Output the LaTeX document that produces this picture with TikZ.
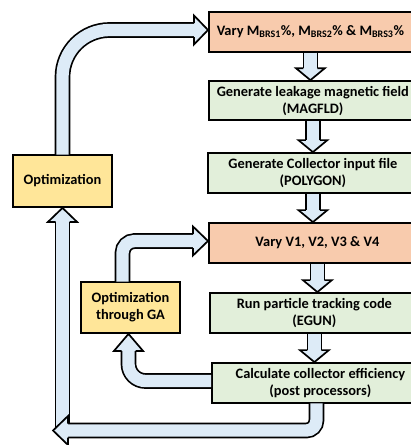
\documentclass[tikz,border=0pt]{standalone}
\usepackage{fontspec}
\setmainfont{Carlito}
\definecolor{orangefill}{HTML}{F8CBAD}
\definecolor{greenfill}{HTML}{E2EFDA}
\definecolor{yellowfill}{HTML}{FFE699}
\definecolor{arrowblue}{HTML}{DDEBF7}
\newcommand{\bhead}[3]{%
  \begin{scope}[shift={(#1)}, rotate=#2]
    \filldraw[headstyle] (-#3,-7) -- (-#3,-14.5) -- (0,0) -- (-#3,14.5) -- (-#3,7);
  \end{scope}}
\begin{document}
\begin{tikzpicture}[x=1pt,y=-1pt,
  box/.style={draw=black, line width=1.8pt, font=\fontsize{14.4}{17.3}\selectfont\bfseries, align=center, inner sep=0pt, anchor=west},
  obox/.style={box, fill=orangefill},
  gbox/.style={box, fill=greenfill},
  ybox/.style={box, fill=yellowfill, anchor=center},
  shaft/.style={draw=black, line width=1.7pt, double=arrowblue, double distance=12.3pt, line cap=butt},
  headstyle/.style={fill=arrowblue, draw=black, line width=1.7pt, line join=miter}]
\useasboundingbox (0,0) rectangle (411,445);
% boxes
\node[obox, minimum width=203pt, minimum height=40pt] (b1) at (208,31.7) {Vary M\textsubscript{BRS1}\%, M\textsubscript{BRS2}\% \& M\textsubscript{BRS3}\%};
\node[gbox, minimum width=208pt, minimum height=39.3pt] (b2) at (208,100.7) {Generate leakage magnetic field\\(MAGFLD)};
\node[gbox, minimum width=210pt, minimum height=40pt] (b3) at (207,173) {Generate Collector input file\\(POLYGON)};
\node[obox, minimum width=217pt, minimum height=40pt] (b4) at (208,243) {Vary V1, V2, V3 \& V4};
\node[gbox, minimum width=209pt, minimum height=40pt] (b5) at (209,313) {Run particle tracking code\\(EGUN)};
\node[gbox, minimum width=217pt, minimum height=40pt] (b6) at (211,383) {Calculate collector efficiency\\(post processors)};
\node[ybox, minimum width=99pt, minimum height=52pt] (opt) at (62.5,181) {Optimization};
\node[ybox, minimum width=99pt, minimum height=51pt] (ga) at (130.5,307.5) {Optimization\\through GA};
% straight arrows between boxes
\foreach \u/\l in {b1/b2, b2/b3, b3/b4, b4/b5, b5/b6}{
  \draw[shaft] (\u.south) -- ([yshift=12pt]\u.south |- \l.north);
  \bhead{\u.south |- \l.north}{-90}{12}
}
% top loop: optimization -> vary MBRS
\draw[shaft, rounded corners=47pt] ([yshift=-0.5pt]opt.north) -- ([yshift=1.7pt]opt.north |- b1.west) -- ([xshift=-14pt,yshift=1.7pt]b1.west);
\bhead{[yshift=1.7pt]b1.west}{0}{14}
% bottom loop
\coordinate (botL) at (53,430.5);
\draw[shaft] (opt.south |- botL) -- ([yshift=-14pt]opt.south);
\bhead{opt.south}{90}{14}
\draw[shaft, rounded corners=10pt] ([xshift=-4pt,yshift=0.5pt]b6.south) -- ([xshift=-4pt]b6.south |- botL) -- ([xshift=15pt]botL);
\bhead{botL}{180}{15}
% GA loop
\draw[shaft, rounded corners=17pt] ([yshift=2pt]b6.west) -- ([yshift=2pt,xshift=-2pt]b6.west -| ga.south) -- ([xshift=-2pt,yshift=-17pt]ga.south);
\bhead{[xshift=-2pt]ga.south}{90}{17}
\draw[shaft, rounded corners=12pt] ([xshift=-8pt,yshift=-0.5pt]ga.north) -- ([xshift=-8pt,yshift=2pt]ga.north |- b4.west) -- ([xshift=-15pt,yshift=2pt]b4.west);
\bhead{[yshift=2pt]b4.west}{0}{15}
\end{tikzpicture}
\end{document}
